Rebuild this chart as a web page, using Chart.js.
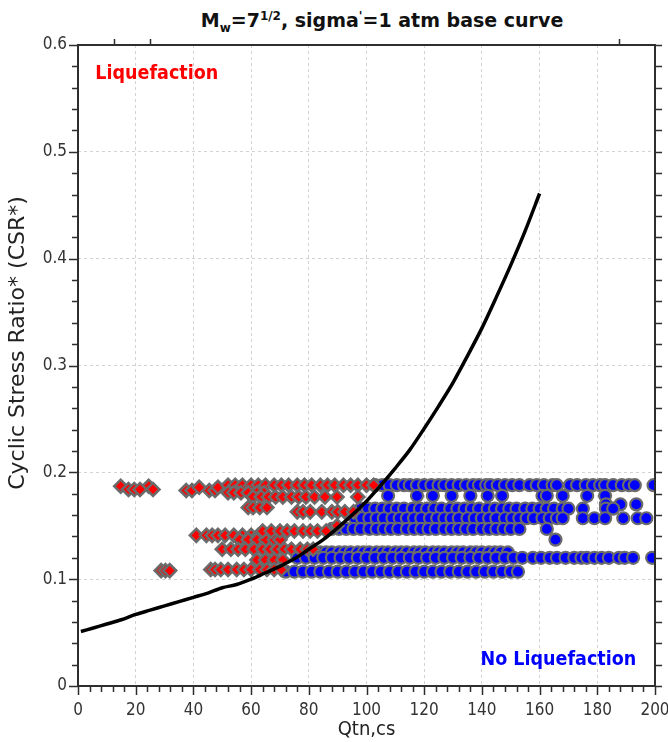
<!DOCTYPE html>
<html>
<head>
<meta charset="utf-8">
<script src="https://cdn.jsdelivr.net/npm/chart.js@4.4.1/dist/chart.umd.min.js"></script>
<style>
  html, body { margin: 0; padding: 0; background: #fff; }
  #wrap { position: relative; width: 668px; height: 742px; }
  #title {
    position: absolute; left: 152px; top: 0; width: 460px; height: 44px;
    background: #fff; text-align: center; color: #111;
    font: bold 19px "DejaVu Sans"; line-height: 40px; white-space: nowrap;
  }
  #title sub, #title sup { font-size: 12px; line-height: 0; }
</style>
</head>
<body>
<div id="wrap">
  <canvas id="chart" width="668" height="742"></canvas>
  <div id="title">M<sub>w</sub>=7<sup>1/2</sup>, sigma<sup>'</sup>=1 atm base curve</div>
</div>
<script>
// base curve (CRR vs Qtn,cs)
const curveQ = [1, 5, 10, 15, 20, 25, 30, 35, 40, 45, 50, 55, 60, 65, 70, 75, 80, 85, 90, 95,
  100, 105, 110, 115, 120, 125, 130, 135, 140, 145, 150, 155, 160];
const curveCSR = [0.051, 0.054, 0.058, 0.062, 0.067, 0.071, 0.075, 0.079, 0.083, 0.087, 0.092,
  0.095, 0.100, 0.106, 0.112, 0.119, 0.128, 0.137, 0.148, 0.160, 0.173, 0.188, 0.204, 0.221,
  0.241, 0.262, 0.284, 0.309, 0.335, 0.364, 0.394, 0.426, 0.461];

// liquefaction cases: one CSR level per row, Qtn,cs values along it
const liqCSR = [0.187, 0.184, 0.183, 0.186, 0.188, 0.181, 0.177, 0.167, 0.163, 0.150,
  0.141, 0.137, 0.145, 0.128, 0.118, 0.108, 0.109];
const liqQ = [
  [14.8, 24.5],
  [17.5, 19.5, 21.5, 26],
  [37.5, 39.5, 45.5, 47.5],
  [42, 48.5],
  [52, 54.5, 57, 60, 62.5, 65, 68, 70.5, 73, 76, 78.5, 81, 84, 86.5, 89, 92, 94.5, 97, 100, 102.5],
  [52, 54, 56.5, 59, 62, 64.5],
  [60.7, 63.5, 66, 68.5, 71, 74, 76.5, 79, 82, 85.6, 89.8, 97],
  [59, 60.7, 63, 65.5],
  [76, 78, 80.5, 84.5, 88, 90, 92.5, 95.5],
  [89.8],
  [41, 44.5, 46.5, 48.5, 51, 54, 57, 60, 62.5],
  [56, 59, 62, 65, 68, 70],
  [64, 67, 70, 72.5, 75, 78, 80.5, 83, 86],
  [50, 53, 55.5, 58, 61, 64, 66.5, 69, 71.5, 74, 77, 79.5, 81.5],
  [62, 65, 68, 71],
  [28.8, 30.3, 31.8],
  [46, 47.5, 49.5, 52, 55, 57.5, 60, 63, 65.5, 68, 70.5]
];

// no-liquefaction cases
const noLiqCSR = [0.188, 0.178, 0.170, 0.166, 0.157, 0.147, 0.137, 0.125, 0.120, 0.107];
const noLiqQ = [
  [103, 105.5, 108, 110.5, 113, 115, 117.5, 120, 122.5, 125, 127, 129.5, 132, 134.5, 137, 139,
    141.5, 143, 145.5, 148, 150.5, 153, 156.5, 159, 161.5, 164.5, 166, 170.5, 173, 176, 178.5,
    181, 182.7, 185.5, 188.5, 191, 193, 199.5],
  [107.5, 117.5, 123, 129.5, 136, 142, 147, 161, 162.5, 168, 176.5, 182.7],
  [183, 188, 193.5],
  [98, 100.5, 103, 105.5, 108, 110.5, 113, 116, 118.5, 121, 123.5, 126, 129, 131.5, 134, 136.5,
    139, 142, 144.5, 147, 149.5, 152, 155, 157.5, 160, 162.5, 165, 168, 170, 175, 183, 185.5],
  [96, 98.5, 101, 103.5, 106, 109, 111.5, 114, 116.5, 119, 122, 124.5, 127, 129.5, 132, 135,
    137.5, 140, 142.5, 145, 148, 150.5, 153, 155.5, 158, 161, 163.5, 166, 168, 175, 179, 182.7,
    189, 194, 197],
  [88, 90.5, 93, 95.5, 98, 101, 103.5, 106, 108.5, 111, 114, 116.5, 119, 121.5, 124, 127, 129.5,
    132, 134.5, 137, 140, 142.5, 145, 147.5, 150, 153, 162.5],
  [165.5],
  [82, 84, 86, 88, 90.5, 92.5, 94.5, 97, 99, 101, 103.5, 105.5, 107.5, 110, 112, 114, 116.5,
    118.5, 120.5, 123, 125, 127, 129.5, 131.5, 133.5, 136, 138, 140, 142.5, 144.5, 146.5, 149],
  [76, 79, 82, 85, 88, 91, 94, 97, 100, 103, 106, 109, 112, 115, 118, 121, 124, 127, 130, 133,
    136, 139, 142, 145, 148, 151, 154, 157.7, 160.5, 163.5, 166, 169, 172, 174.5, 176.4, 179,
    181.5, 184, 187.5, 189.5, 192.4, 199],
  [72, 75, 78, 81, 84, 87, 90, 93, 96, 99, 102, 105, 108, 111, 114, 117, 120, 123, 126, 129,
    132, 135, 138, 141, 144, 147, 150, 152.5]
];

const xTicks = [0, 20, 40, 60, 80, 100, 120, 140, 160, 180, 200];
const yTicks = [0, 0.1, 0.2, 0.3, 0.4, 0.5, 0.6];

function rowsToPoints(levels, rows) {
  const pts = [];
  rows.forEach((row, i) => row.forEach((q) => pts.push({ x: q, y: levels[i] })));
  return pts;
}

const tickFont = { family: "DejaVu Sans Condensed", size: 17 };

// frame, minor/major tick marks, axis titles and region labels
const frameAndText = {
  id: "frameAndText",
  afterDraw(chart) {
    const { ctx, chartArea: a, scales: { x, y } } = chart;
    ctx.save();
    ctx.strokeStyle = "#2e2e2e";
    ctx.lineWidth = 1.5;
    ctx.beginPath();
    for (let v = 0; v <= 200; v += 4) {
      const px = Math.round(x.getPixelForValue(v)) + 0.5;
      const len = v % 20 === 0 ? 9 : 6;
      ctx.moveTo(px, a.bottom); ctx.lineTo(px, a.bottom + len);
    }
    for (let v = 12.5; v < 200; v += 12.5) {
      const px = Math.round(x.getPixelForValue(v)) + 0.5;
      ctx.moveTo(px, a.top); ctx.lineTo(px, a.top - 6);
    }
    for (let i = 0; i <= 30; i++) {
      const py = Math.round(y.getPixelForValue(i * 0.02)) + 0.5;
      const len = i % 5 === 0 ? 9 : 6;
      ctx.moveTo(a.left, py); ctx.lineTo(a.left - len, py);
      ctx.moveTo(a.right, py); ctx.lineTo(a.right + 7, py);
    }
    ctx.stroke();
    ctx.lineWidth = 2;
    ctx.strokeRect(a.left, a.top, a.right - a.left, a.bottom - a.top);

    ctx.fillStyle = "#222";
    ctx.font = '20px "DejaVu Sans Condensed"';
    ctx.textAlign = "center";
    ctx.textBaseline = "middle";
    ctx.fillText("Qtn,cs", (a.left + a.right) / 2, 730);
    ctx.translate(18, 343);
    ctx.rotate(-Math.PI / 2);
    ctx.font = '22px "DejaVu Sans"';
    ctx.fillText("Cyclic Stress Ratio* (CSR*)", 0, 0);
    ctx.setTransform(1, 0, 0, 1, 0, 0);

    ctx.font = 'bold 19.5px "DejaVu Sans Condensed"';
    ctx.textAlign = "left";
    ctx.fillStyle = "#ff0000";
    ctx.fillText("Liquefaction", x.getPixelForValue(6), y.getPixelForValue(0.573));
    ctx.textAlign = "right";
    ctx.fillStyle = "#0000ff";
    ctx.fillText("No Liquefaction", x.getPixelForValue(193.5), y.getPixelForValue(0.024));
    ctx.restore();
  },
};

new Chart(document.getElementById("chart"), {
  type: "scatter",
  data: {
    datasets: [
      {
        label: "Base curve",
        data: curveQ.map((q, i) => ({ x: q, y: curveCSR[i] })),
        showLine: true,
        borderColor: "#000",
        borderWidth: 3.5,
        pointRadius: 0,
        tension: 0.3,
      },
      {
        label: "Liquefaction",
        data: rowsToPoints(liqCSR, liqQ),
        pointStyle: "rectRot",
        pointRadius: 6.5,
        borderWidth: 2.5,
        borderColor: "#6b6b6b",
        backgroundColor: "#ff0000",
      },
      {
        label: "No Liquefaction",
        data: rowsToPoints(noLiqCSR, noLiqQ),
        pointStyle: "circle",
        pointRadius: 6,
        borderWidth: 2.2,
        borderColor: "#6b6b6b",
        backgroundColor: "#0000ff",
      },
    ],
  },
  options: {
    responsive: false,
    animation: false,
    layout: { padding: { top: 45, right: 13, left: 0, bottom: 0 } },
    plugins: { legend: { display: false }, tooltip: { enabled: false } },
    scales: {
      x: {
        type: "linear",
        min: 0,
        max: 200,
        afterFit: (s) => { s.height = 56; s.paddingLeft = 0; s.paddingRight = 0; },
        afterBuildTicks: (s) => { s.ticks = xTicks.map((v) => ({ value: v })); },
        ticks: { font: tickFont, color: "#333", padding: 14, maxRotation: 0 },
        grid: { color: "#d2d2d2", lineWidth: 1, drawTicks: false },
        border: { display: false, dash: [3, 3] },
      },
      y: {
        type: "linear",
        min: 0,
        max: 0.6,
        afterFit: (s) => { s.width = 78; s.paddingTop = 0; s.paddingBottom = 0; },
        afterBuildTicks: (s) => { s.ticks = yTicks.map((v) => ({ value: v })); },
        ticks: { font: tickFont, color: "#333", padding: 11, callback: (v) => String(v) },
        grid: { color: "#d2d2d2", lineWidth: 1, drawTicks: false },
        border: { display: false, dash: [3, 3] },
      },
    },
  },
  plugins: [frameAndText],
});
</script>
</body>
</html>
